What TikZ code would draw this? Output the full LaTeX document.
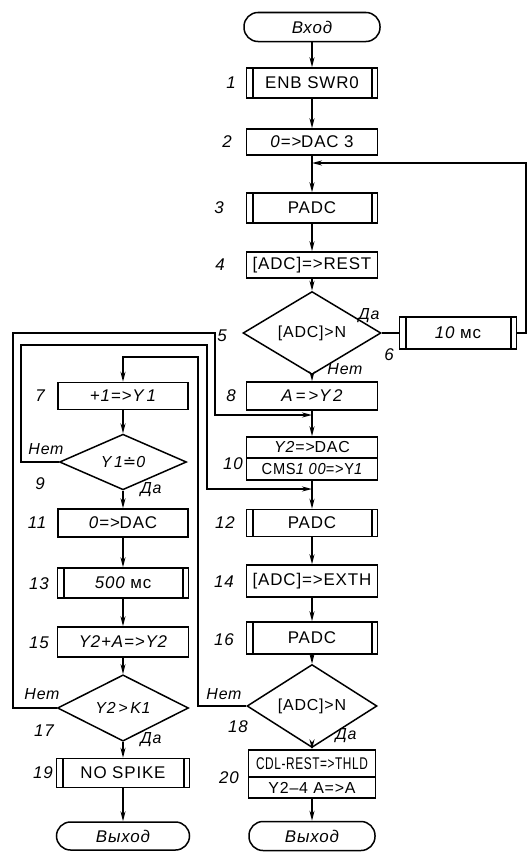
\documentclass[tikz,border=0pt]{standalone}
\usepackage{fontspec}
\setmainfont{Liberation Sans}[LetterSpace=5]
\newfontfamily\dvs{DejaVu Sans}
\usepackage{graphicx}
\usetikzlibrary{shapes.geometric,arrows.meta}
\begin{document}
\begin{tikzpicture}[x=1bp,y=-1bp,
  lw/.style={line width=1.5bp},
  blk/.style={draw, lw, rectangle, inner sep=0pt, minimum width=131bp, minimum height=28bp, font=\fontsize{17}{19}\selectfont},
  pbox/.style={blk, path picture={
     \draw[line width=2bp] ([xshift=6bp]path picture bounding box.north west) -- ([xshift=6bp]path picture bounding box.south west);
     \draw[line width=2bp] ([xshift=-6bp]path picture bounding box.north east) -- ([xshift=-6bp]path picture bounding box.south east);}},
  term/.style={blk, rounded corners=14bp, font=\itshape\fontsize{17}{19}\selectfont},
  dec/.style={draw, lw, diamond, inner sep=0pt, minimum width=132bp, minimum height=47bp, font=\fontsize{16}{18}\selectfont},
  num/.style={font=\itshape\fontsize{17}{19}\selectfont, inner sep=0pt},
  lab/.style={font=\itshape\fontsize{16}{18}\selectfont, inner sep=0pt},
  arr/.style={lw, -{Stealth[length=10bp,width=5bp]}},
  ln/.style={lw}
]
\useasboundingbox (0,0) rectangle (528,852);

% main column
\node[term, minimum width=136bp, minimum height=29bp] (in) at (312,27) {Вход};
\node[pbox, minimum height=30bp] (b1) at (312,83) {ENB SWR0};
\node[blk, minimum height=26bp] (b2) at (312,142) {{\itshape 0=>}DAC 3};
\node[pbox, minimum height=30bp] (b3) at (312,208) {PADC};
\node[blk, minimum height=26bp] (b4) at (312,265) {[ADC]=>REST};
\node[dec, minimum width=138bp, minimum height=44bp] (d5) at (312,333) {[ADC]>N};
\node[pbox, minimum width=117bp, minimum height=32bp] (b6) at (458,333) {{\itshape 10} мс};
\node[blk, minimum height=28bp] (b8) at (312,396) {\itshape A\,=\,>Y\,2};
\node[blk, minimum height=21bp, font=\fontsize{16}{18}\selectfont] (b10a) at (312,447.5) {{\itshape Y2=>}DAC};
\node[blk, minimum height=22bp, font=\fontsize{16}{18}\selectfont] (b10b) at (312,469) {\scalebox{0.92}[1]{CMS{\itshape 1 00}=>Y{\itshape 1}}};
\node[pbox, minimum height=27bp] (b12) at (312,523) {PADC};
\node[blk, minimum height=32bp] (b14) at (312,581) {[ADC]=>EXTH};
\node[pbox, minimum height=32bp] (b16) at (312,638) {PADC};
\node[dec, minimum width=130bp, minimum height=48bp] (d18) at (312,706) {[ADC]>N};
\node[blk, minimum width=127bp, minimum height=27bp, font=\fontsize{17}{19}\selectfont] (b20a) at (312,763.5) {\scalebox{0.7}[1]{CDL-REST=>THLD}};
\node[blk, minimum width=127bp, minimum height=21bp, font=\fontsize{16}{18}\selectfont] (b20b) at (312,787.5) {Y2–4 A=>A};
\node[term, minimum width=126bp, minimum height=29bp] (out2) at (312,836) {Выход};

% left column
\node[blk, minimum width=130bp, minimum height=27bp] (b7) at (123,396) {\itshape +1=>Y\,1};
\node[dec, minimum width=127bp, minimum height=47bp] (d9) at (123,462) {{\itshape Y\,1}{\dvs ≐}{\itshape 0}};
\node[blk, minimum width=130bp, minimum height=28bp] (b11) at (123,523) {{\itshape 0=>}DAC};
\node[pbox, minimum width=131bp, minimum height=30bp] (b13) at (123,583) {{\itshape 500} мс};
\node[blk, minimum width=131bp, minimum height=30bp] (b15) at (123,642) {\itshape Y2+A=>Y2};
\node[dec, minimum width=131bp, minimum height=49bp] (d17) at (123,708) {\itshape Y2\,>\,K1};
\node[pbox, minimum width=133bp, minimum height=29bp] (b19) at (123,773) {NO SPIKE};
\node[term, minimum width=133bp, minimum height=28bp] (out1) at (123,836) {Выход};

% coordinates
\coordinate (m1) at (312,163);
\coordinate (r1) at (526,333);
\coordinate (m2) at (312,415);
\coordinate (m3) at (312,489);
\coordinate (o1) at (13,333);
\coordinate (o2) at (215,333);
\coordinate (p1) at (21,345);
\coordinate (p2) at (207,345);
\coordinate (q1) at (198,357);

% main connectors
\draw[arr] (in) -- (b1);
\draw[arr] (b1) -- (b2);
\draw[arr] (b2) -- (b3);
\draw[arr] (b3) -- (b4);
\draw[arr] (b4) -- (d5);
\draw[ln] (d5.east) -- (b6.west);
\draw[arr] (b6.east) -- (r1) |- (m1);
\draw[arr] (d5.south) -- (b8.north);
\draw[arr] (b8) -- (b10a);
\draw[arr] (b10b) -- (b12);
\draw[arr] (b12) -- (b14);
\draw[arr] (b14) -- (b16);
\draw[arr] (b16) -- (d18.north);
\draw[arr] (d18.south) -- (b20a.north);
\draw[arr] (b20b) -- (out2);

% left connectors
\draw[arr] (b7) -- (d9.north);
\draw[arr] (d9.south) -- (b11.north);
\draw[arr] (b11) -- (b13);
\draw[arr] (b13) -- (b15);
\draw[arr] (b15) -- (d17.north);
\draw[arr] (d17.south) -- (b19.north);
\draw[arr] (b19) -- (out1);

% loops
\draw[arr] (d17.west) -| (o1) -- (o2) |- (m2);
\draw[arr] (d9.west) -| (p1) -- (p2) |- (m3);
\draw[arr] (d18.west) -| (q1) -| (b7.north);

% numbers
\node[num] (n1) at (231,83) {1};
\node[num] (n2) at (227,142) {2};
\node[num] (n3) at (219,208) {3};
\node[num] (n4) at (220,265) {4};
\node[num] (n5) at (222,336) {5};
\node[num] (n6) at (389,355) {6};
\node[num] (n7) at (40,396) {7};
\node[num] (n8) at (231,396) {8};
\node[num] (n9) at (40,484) {9};
\node[num] (n10) at (233,464) {10};
\node[num] (n11) at (37,523) {11};
\node[num] (n12) at (225,523) {12};
\node[num] (n13) at (39,584) {13};
\node[num] (n14) at (224,582) {14};
\node[num] (n15) at (39,643) {15};
\node[num] (n16) at (224,640) {16};
\node[num] (n17) at (44,731) {17};
\node[num] (n18) at (238,727) {18};
\node[num] (n19) at (43,773) {19};
\node[num] (n20) at (229,778) {20};

% branch labels
\node[lab] (l5y) at (369,316) {Да};
\node[lab] (l5n) at (345,369) {Нет};
\node[lab] (l9n) at (46,449) {Нет};
\node[lab] (l9y) at (151,490) {Да};
\node[lab] (l17n) at (42,694) {Нет};
\node[lab] (l17y) at (151,740) {Да};
\node[lab] (l18n) at (224,694) {Нет};
\node[lab] (l18y) at (346,736) {Да};
\end{tikzpicture}
\end{document}
